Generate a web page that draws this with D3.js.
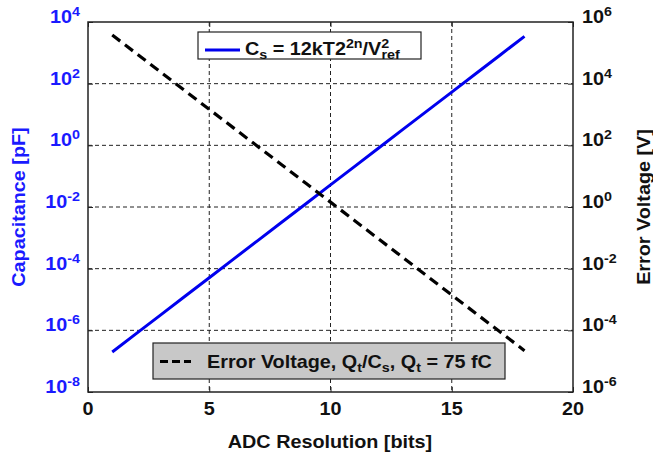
<!DOCTYPE html>
<html>
<head>
<meta charset="utf-8">
<script src="https://cdn.jsdelivr.net/npm/d3@7"></script>
<style>
  body { margin: 0; background: #fff; }
  text { font-family: "Liberation Sans", Arial, sans-serif; font-weight: bold; }
</style>
</head>
<body>
<script>
// ADC resolution in bits
var bits = [1, 2, 3, 4, 5, 6, 7, 8, 9, 10, 11, 12, 13, 14, 15, 16, 17, 18];
// sampling capacitance [pF]
var capPF = [1.99e-7, 7.95e-7, 3.18e-6, 1.27e-5, 5.09e-5, 2.04e-4, 8.14e-4, 3.26e-3, 1.30e-2,
             5.21e-2, 0.208, 0.834, 3.34, 13.3, 53.4, 213, 854, 3420];
// error voltage [V]
var errV = [3.77e5, 9.43e4, 2.36e4, 5.89e3, 1.47e3, 368, 92.1, 23.0, 5.76,
            1.44, 0.360, 0.0899, 0.0225, 5.62e-3, 1.40e-3, 3.51e-4, 8.78e-5, 2.19e-5];

var xTicks = [0, 5, 10, 15, 20];
var leftExp = [-8, -6, -4, -2, 0, 2, 4];
var rightExp = [-6, -4, -2, 0, 2, 4, 6];

var L = 88, R = 573, T = 22, B = 392;
var FS = 18, SX = 1.1; // font looks a bit wide in the original

var svg = d3.select("body").append("svg")
            .attr("width", 653)
            .attr("height", 457);

var x = d3.scaleLinear().domain([0, 20]).range([L, R]);
var yL = d3.scaleLog().domain([1e-8, 1e4]).range([B, T]);
var yR = d3.scaleLog().domain([1e-6, 1e6]).range([B, T]);

// text helper: parts are [string, shift] where shift -1 = superscript, 1 = subscript
function label(px, py, anchor, color, parts, rot) {
  var g = svg.append("g")
             .attr("transform", "translate(" + px + "," + py + ")" + (rot ? " rotate(" + rot + ")" : "") + " scale(" + SX + ",1)");
  var t = g.append("text")
           .attr("text-anchor", anchor)
           .attr("font-size", FS)
           .attr("fill", color);
  var cur = 0;
  parts.forEach(function(p) {
    var target = p[1] ? (p[1] < 0 ? -7 : 4) : 0;
    var sp = t.append("tspan").attr("dy", target - cur).text(p[0]);
    if (p[1]) sp.attr("font-size", 13);
    if (p[2]) sp.attr("dx", p[2]);
    cur = target;
  });
  return t;
}

// grid
var grid = svg.append("g")
              .attr("stroke", "#222")
              .attr("stroke-width", 1)
              .attr("stroke-dasharray", "4,3");
grid.selectAll("line.gx")
    .data(xTicks.slice(1, -1))
    .enter().append("line")
    .attr("x1", d => x(d)).attr("x2", d => x(d))
    .attr("y1", T).attr("y2", B);
grid.selectAll("line.gy")
    .data(leftExp.slice(1, -1))
    .enter().append("line")
    .attr("x1", L).attr("x2", R)
    .attr("y1", d => yL(Math.pow(10, d))).attr("y2", d => yL(Math.pow(10, d)));

// axes, ticks pointing inward, labels drawn separately
var xAxis = svg.append("g")
               .attr("transform", "translate(0," + B + ")")
               .call(d3.axisBottom(x).tickValues(xTicks).tickSizeInner(-5).tickSizeOuter(0).tickFormat(""));
var xTop = svg.append("g")
              .attr("transform", "translate(0," + T + ")")
              .call(d3.axisTop(x).tickValues(xTicks).tickSizeInner(-5).tickSizeOuter(0).tickFormat(""));
var leftAxis = svg.append("g")
                  .attr("transform", "translate(" + L + ",0)")
                  .call(d3.axisLeft(yL).tickValues(leftExp.map(e => Math.pow(10, e))).tickSizeInner(-5).tickSizeOuter(0).tickFormat(""));
var rightAxis = svg.append("g")
                   .attr("transform", "translate(" + R + ",0)")
                   .call(d3.axisRight(yR).tickValues(rightExp.map(e => Math.pow(10, e))).tickSizeInner(-5).tickSizeOuter(0).tickFormat(""));

[xAxis, xTop, leftAxis, rightAxis].forEach(function(g) {
  g.select(".domain").remove();
  g.selectAll(".tick line").attr("stroke", "#222").attr("stroke-width", 1);
});

xTicks.forEach(function(v) {
  label(x(v), 415, "middle", "#111", [[String(v)]]);
});
leftExp.forEach(function(e) {
  label(80, yL(Math.pow(10, e)) + 1, "end", "#1a1aff", [["10"], [e < 0 ? "-" + (-e) : String(e), -1]]);
});
rightExp.forEach(function(e) {
  label(582, yR(Math.pow(10, e)) + 1, "start", "#111", [["10"], [e < 0 ? "-" + (-e) : String(e), -1]]);
});

// box
svg.append("rect")
   .attr("x", L).attr("y", T)
   .attr("width", R - L).attr("height", B - T)
   .attr("fill", "none")
   .attr("stroke", "#222")
   .attr("stroke-width", 1.5);

// data lines
var capLine = d3.line().x((d, i) => x(bits[i])).y(d => yL(d));
var errLine = d3.line().x((d, i) => x(bits[i])).y(d => yR(d));

svg.append("path")
   .datum(capPF)
   .attr("d", capLine)
   .attr("fill", "none")
   .attr("stroke", "#0000ee")
   .attr("stroke-width", 3);

svg.append("path")
   .datum(errV)
   .attr("d", errLine)
   .attr("fill", "none")
   .attr("stroke", "#000")
   .attr("stroke-width", 3.2)
   .attr("stroke-dasharray", "10,6");

// legend 1
svg.append("rect")
   .attr("x", 198).attr("y", 32)
   .attr("width", 223).attr("height", 27)
   .attr("fill", "#fff")
   .attr("stroke", "#222")
   .attr("stroke-width", 1.2);
svg.append("line")
   .attr("x1", 205).attr("x2", 240)
   .attr("y1", 50).attr("y2", 50)
   .attr("stroke", "#0000ee")
   .attr("stroke-width", 3);
label(245, 55, "start", "#111",
      [["C"], ["s", 1], [" = 12kT2"], ["2n", -1], ["/V"], ["2", -1], ["ref", 1, -7]]);

// legend 2
svg.append("rect")
   .attr("x", 153).attr("y", 343)
   .attr("width", 352).attr("height", 36)
   .attr("fill", "#c8c8c8")
   .attr("stroke", "#222")
   .attr("stroke-width", 1.2);
svg.append("line")
   .attr("x1", 160).attr("x2", 191)
   .attr("y1", 361.5).attr("y2", 361.5)
   .attr("stroke", "#000")
   .attr("stroke-width", 3)
   .attr("stroke-dasharray", "8,4");
label(207, 367.5, "start", "#111",
      [["Error Voltage, Q"], ["t", 1], ["/C"], ["s", 1], [", Q"], ["t", 1], [" = 75 fC"]]);

// axis titles
label(330, 448, "middle", "#111", [["ADC Resolution [bits]"]]);
label(25, 207, "middle", "#1a1aff", [["Capacitance [pF]"]], -90);
label(650, 207, "middle", "#111", [["Error Voltage [V]"]], -90);
</script>
</body>
</html>
